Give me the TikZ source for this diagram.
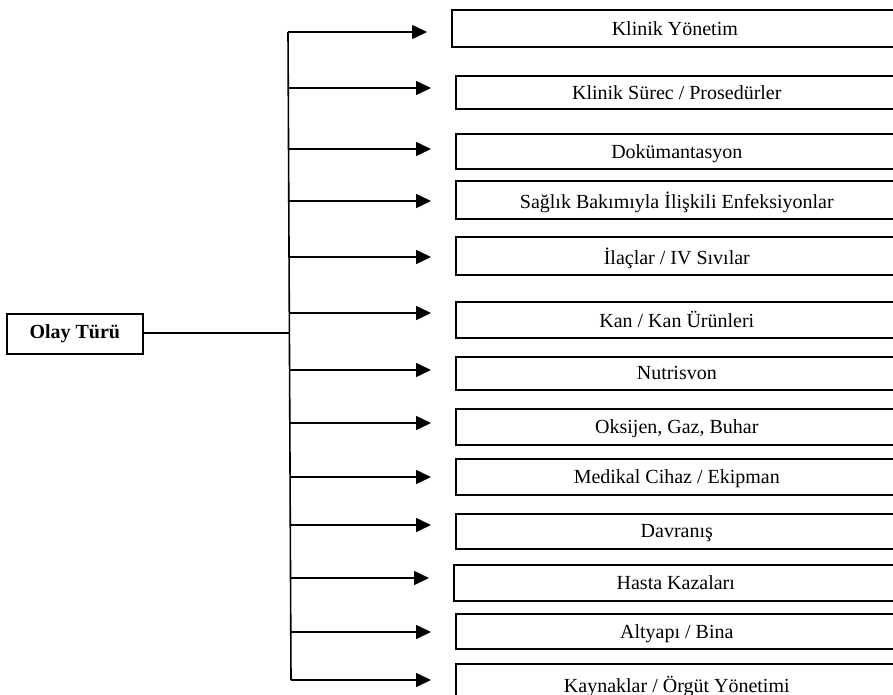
\documentclass[tikz,border=0pt]{standalone}
\usepackage{fontspec}
\setmainfont{Liberation Serif}
\usetikzlibrary{arrows.meta}
\begin{document}
\begin{tikzpicture}[x=1pt,y=-1pt,
  cat/.style={draw, line width=1.6pt, inner sep=0pt, anchor=north west,
    font=\fontsize{20}{24}\selectfont, text depth=0pt},
  root/.style={draw, line width=1.6pt, inner sep=0pt, anchor=north west,
    font=\fontsize{20}{24}\selectfont\bfseries},
  conn/.style={line width=1.6pt},
  arr/.style={line width=1.6pt, -{Triangle[length=15pt,width=14pt]}, shorten >=24pt}]
\useasboundingbox (0,0) rectangle (893,695);
\begin{scope}
\clip (0,0) rectangle (893,695);
\node[root, minimum width=136pt, minimum height=40pt] (olay) at (6,313) {Olay Türü};

\node[cat, minimum width=446pt, minimum height=37pt] (k1) at (451,9) {Klinik Yönetim};
\node[cat, minimum width=442pt, minimum height=33pt] (k2) at (455,75) {Klinik Sürec / Prosedürler};
\node[cat, minimum width=442pt, minimum height=35pt] (k3) at (455,133) {Dokümantasyon};
\node[cat, minimum width=442pt, minimum height=38pt] (k4) at (455,180) {Sağlık Bakımıyla İlişkili Enfeksiyonlar};
\node[cat, minimum width=442pt, minimum height=38pt] (k5) at (455,236) {İlaçlar / IV Sıvılar};
\node[cat, minimum width=442pt, minimum height=36pt] (k6) at (455,301) {Kan / Kan Ürünleri};
\node[cat, minimum width=442pt, minimum height=33pt] (k7) at (455,356) {Nutrisvon};
\node[cat, minimum width=442pt, minimum height=36pt] (k8) at (455,408) {Oksijen, Gaz, Buhar};
\node[cat, minimum width=442pt, minimum height=36pt] (k9) at (455,458) {Medikal Cihaz / Ekipman};
\node[cat, minimum width=442pt, minimum height=35pt] (k10) at (455,513) {Davranış};
\node[cat, minimum width=444pt, minimum height=36pt] (k11) at (453,564) {Hasta Kazaları};
\node[cat, minimum width=442pt, minimum height=35pt] (k12) at (455,613) {Altyapı / Bina};
\node[cat, minimum width=442pt, minimum height=42pt] (k13) at (455,663) {Kaynaklar / Örgüt Yönetimi};

\coordinate (b1) at (288,32);
\coordinate (b2) at (288,88);
\coordinate (b3) at (289,149);
\coordinate (b4) at (289,201);
\coordinate (b5) at (289,257);
\coordinate (j)  at (290,333);
\coordinate (b6) at (290,313);
\coordinate (b7) at (290,370);
\coordinate (b8) at (290,423);
\coordinate (b9) at (290,477);
\coordinate (b10) at (290,525);
\coordinate (b11) at (290,578);
\coordinate (b12) at (291,632);
\coordinate (b13) at (291,680);

\draw[conn] (b1) -- (b13);
\draw[conn] (olay.east |- j) -- (j);
\foreach \i in {1,...,13} {
  \draw[arr] (b\i) -- (b\i -| k\i.west);
}
\end{scope}
\end{tikzpicture}
\end{document}
